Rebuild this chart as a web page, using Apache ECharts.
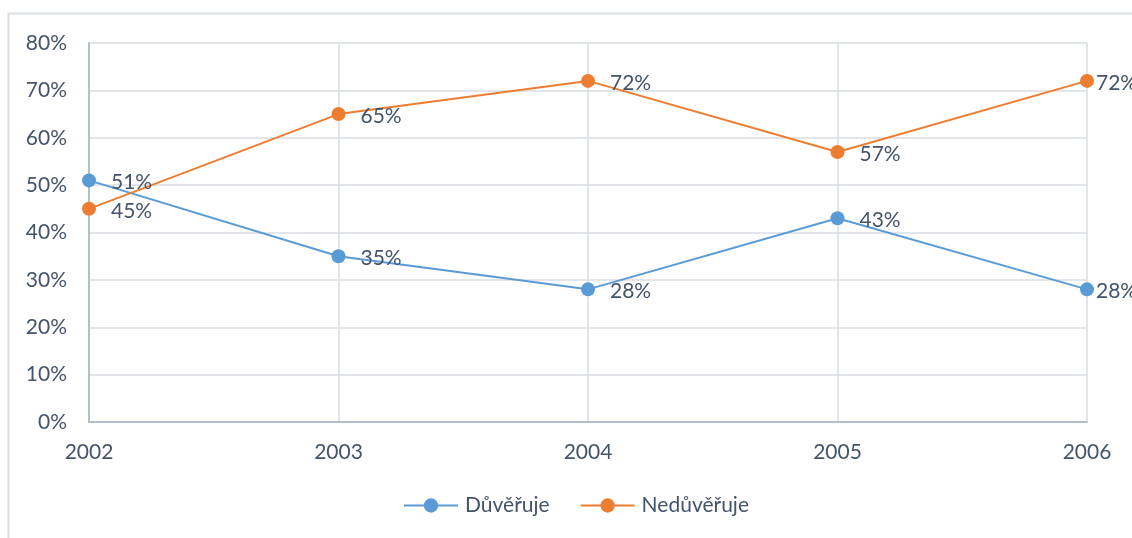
<!DOCTYPE html>
<html>
<head>
<meta charset="utf-8">
<script src="https://cdn.jsdelivr.net/npm/echarts@6/dist/echarts.min.js"></script>
<style>
  html, body { margin: 0; padding: 0; background: #fff; }
  #main { width: 1132px; height: 538px; }
</style>
</head>
<body>
<div id="main"></div>
<script>
const years = ["2002", "2003", "2004", "2005", "2006"];
const duveruje = [51, 35, 28, 43, 28];
const neduveruje = [45, 65, 72, 57, 72];

const textColor = "#44546A";
const font = "Lato, 'Open Sans', sans-serif";

const myChart = echarts.init(document.getElementById("main"));

function lineSeries(name, data, color) {
  return {
    name: name,
    type: "line",
    // last point's label sits tight against the marker, like the original
    data: data.map((v, i) =>
      i === data.length - 1 ? { value: v, label: { distance: 2 } } : v
    ),
    symbol: "circle",
    symbolSize: 14,
    lineStyle: { color: color, width: 2 },
    itemStyle: { color: color },
    label: {
      show: true,
      position: "right",
      distance: 15,
      offset: [0, 2],
      formatter: (p) => p.value + "%",
      color: textColor,
      fontSize: 21,
      fontFamily: font,
    },
  };
}

myChart.setOption({
  animation: false,
  graphic: [
    {
      type: "rect",
      shape: { x: 8.5, y: 13.5, width: 1140, height: 540 },
      style: { fill: "none", stroke: "#D9DEE5", lineWidth: 2 },
      silent: true,
    },
  ],
  grid: {
    left: 89,
    right: 45,
    top: 43,
    bottom: 116,
  },
  legend: {
    bottom: 17,
    left: 398,
    itemGap: 30,
    itemWidth: 54,
    itemHeight: 18,
    textStyle: { color: textColor, fontSize: 21, fontFamily: font, padding: [0, 0, 0, 2] },
    data: ["Důvěřuje", "Nedůvěřuje"],
  },
  xAxis: {
    type: "category",
    boundaryGap: false,
    data: years,
    axisLine: { lineStyle: { color: "#B4BFCC", width: 2 } },
    axisTick: { show: false },
    splitLine: { show: true, lineStyle: { color: "#D9DEE5", width: 1.5 } },
    axisLabel: { color: textColor, fontSize: 21, fontFamily: font, margin: 20 },
  },
  yAxis: {
    type: "value",
    min: 0,
    max: 80,
    interval: 10,
    axisLine: { show: true, lineStyle: { color: "#B4BFCC", width: 2 } },
    axisTick: { show: false },
    splitLine: { lineStyle: { color: "#D9DEE5", width: 1.5 } },
    axisLabel: {
      color: textColor,
      fontSize: 21,
      fontFamily: font,
      margin: 22,
      formatter: "{value}%",
    },
  },
  series: [
    lineSeries("Důvěřuje", duveruje, "#5B9BD5"),
    lineSeries("Nedůvěřuje", neduveruje, "#ED7D31"),
  ],
});
</script>
</body>
</html>
